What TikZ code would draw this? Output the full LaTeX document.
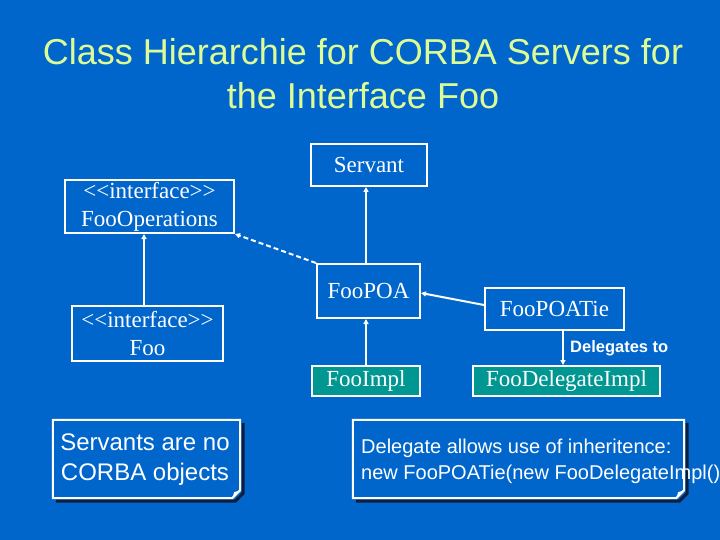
\documentclass[tikz,border=0pt]{standalone}
\usepackage{fontspec}
\setmainfont{Liberation Serif}
\newfontfamily\arial{Liberation Sans}
\usetikzlibrary{arrows.meta,calc}
\definecolor{bg}{RGB}{0,102,204}
\definecolor{titlecol}{RGB}{222,252,150}
\definecolor{tealbox}{RGB}{0,150,145}
\definecolor{shadowcol}{RGB}{15,30,60}
\tikzset{
  umlbox/.style={draw=white, line width=2pt, text=white, inner sep=0pt, align=center,
    font=\fontsize{23}{28}\selectfont},
  implbox/.style={umlbox, fill=tealbox},
  arr/.style={draw=white, line width=2pt, -{Triangle[length=5pt,width=5pt]}},
  dasharr/.style={arr, dash pattern=on 5pt off 3pt},
  notefr/.style={draw=none, inner sep=0pt},
  notetxt/.style={text=white, inner sep=0pt},
  noteline/.style={draw=white, line width=2pt, line join=miter},
  noteshadow/.style={draw=shadowcol, line width=3pt},
  lbl/.style={text=white, inner sep=0pt, font=\arial\bfseries\fontsize{16.5}{20}\selectfont}
}
\begin{document}
\begin{tikzpicture}[x=1pt,y=-1pt]
\fill[bg] (0,0) rectangle (720,540);
\useasboundingbox (0,0) rectangle (720,540);

% title
\node[text=titlecol, align=center, inner sep=0pt, font=\arial\fontsize{36}{44}\selectfont]
  (title) at (363,74) {Class Hierarchie for CORBA Servers for\\the Interface Foo};

% class boxes
\node[umlbox, minimum width=116pt, minimum height=42pt] (servant) at (369,165) {Servant};
\node[umlbox, minimum width=169pt, minimum height=53pt] (fooops) at (149.5,206.5) {<{}<interface>{}>\\FooOperations};
\node[umlbox, minimum width=151pt, minimum height=55pt] (foo) at (147.5,333.5) {<{}<interface>{}>\\Foo};
\node[umlbox, minimum width=103pt, minimum height=54pt] (foopoa) at (368.5,291) {FooPOA};
\node[umlbox, minimum width=139pt, minimum height=42pt] (tie) at (554.5,309) {FooPOATie};
\node[implbox, minimum width=108pt, minimum height=30pt] (impl) at (366,381) {FooImpl};
\node[implbox, minimum width=187pt, minimum height=30pt] (deleg) at (566.5,381) {FooDelegateImpl};

% connectors
\draw[arr] ($(foo.north)+(-3.5,0)$) -- ($(fooops.south)+(-5.5,0)$);
\draw[arr] ($(foopoa.north)+(-2.5,0)$) -- ($(servant.south)+(-3,0)$);
\draw[arr] (impl.north) -- (impl.north |- foopoa.south);
\draw[arr] ($(tie.west)+(0,-4)$) -- ($(foopoa.east)+(0,2)$);
\draw[dasharr] (foopoa.north west) -- (fooops.south east);
\draw[arr] ($(tie.south)+(8.5,0)$) -- ($(deleg.north)+(-3.5,0)$);
\node[lbl, anchor=west] (dlbl) at (570,348) {Delegates to};

% note 1
\node[notefr, minimum width=187pt, minimum height=78pt] (n1) at (146.5,459) {};
\draw[noteshadow] ($(n1.north east)+(3,3)$) -- ($(n1.south east)+(3,-5)$) -- ($(n1.south east)+(-5,3)$) -- ($(n1.south west)+(3,3)$);
\draw[noteline] (n1.north west) -- (n1.north east) -- ($(n1.south east)+(0,-8)$) -- ($(n1.south east)+(-8,0)$) -- (n1.south west) -- cycle;
\fill[white] ($(n1.south east)+(0,-8)$) -- ($(n1.south east)+(-6,-6)$) -- ($(n1.south east)+(-8,0)$) -- cycle;
\node[notetxt, align=center, font=\arial\fontsize{24}{30}\selectfont] (n1t) at (145,460) {Servants are no\\CORBA objects};

% note 2
\node[notefr, minimum width=331pt, minimum height=78pt] (n2) at (518.5,459) {};
\draw[noteshadow] ($(n2.north east)+(3,3)$) -- ($(n2.south east)+(3,-5)$) -- ($(n2.south east)+(-5,3)$) -- ($(n2.south west)+(3,3)$);
\draw[noteline] (n2.north west) -- (n2.north east) -- ($(n2.south east)+(0,-8)$) -- ($(n2.south east)+(-8,0)$) -- (n2.south west) -- cycle;
\fill[white] ($(n2.south east)+(0,-8)$) -- ($(n2.south east)+(-6,-6)$) -- ($(n2.south east)+(-8,0)$) -- cycle;
\node[notetxt, align=left, anchor=west, font=\arial\fontsize{20}{26}\selectfont] (n2t) at (361,461) {Delegate allows use of inheritence:\\new FooPOATie(new FooDelegateImpl()};
\end{tikzpicture}
\end{document}
